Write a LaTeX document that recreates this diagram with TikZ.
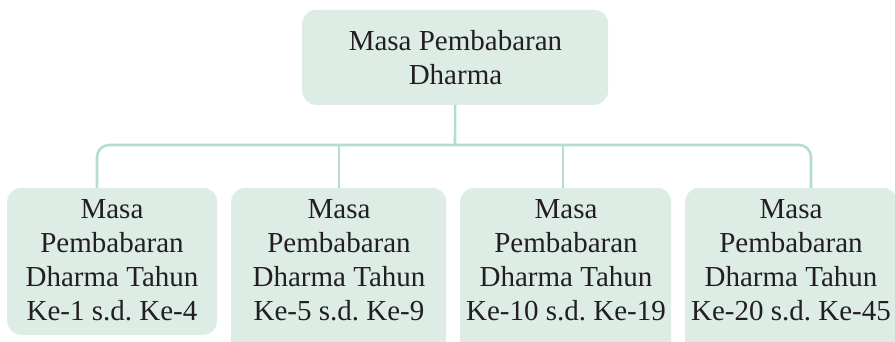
\documentclass[tikz,border=0pt]{standalone}
\usepackage{fontspec}
\setmainfont{Liberation Serif}
\frenchspacing
\definecolor{boxfill}{RGB}{221,237,229}
\definecolor{linkcol}{RGB}{181,221,204}
\definecolor{txt}{RGB}{35,31,32}
\begin{document}
\begin{tikzpicture}[x=1pt,y=1pt,
  boxstyle/.style={fill=boxfill,draw=none,rounded corners=14pt,inner sep=0pt,anchor=south west},
  label/.style={inner sep=0pt,align=center,text=txt,font=\fontsize{29}{34}\selectfont\frenchspacing,anchor=north},
  link/.style={draw=linkcol,line width=2.6pt}]
\useasboundingbox (0,0) rectangle (895,342);
% boxes
\node[boxstyle,minimum width=306pt,minimum height=95pt] (top) at (302,237) {};
\node[boxstyle,minimum width=210pt,minimum height=147pt] (b1) at (7,7) {};
\node[boxstyle,minimum width=215pt,minimum height=170pt] (b2) at (231,-16) {};
\node[boxstyle,minimum width=211pt,minimum height=170pt] (b3) at (460,-16) {};
\node[boxstyle,minimum width=212pt,minimum height=170pt] (b4) at (685,-16) {};
% texts
\node[label] (ttop) at (455.5,312) {Masa Pembabaran\\Dharma};
\node[label] (t1) at (112,142.2) {Masa\\Pembabaran\\Dharma Tahun\\Ke-1 s.d. Ke-4};
\node[label] (t2) at (339,142.2) {Masa\\Pembabaran\\Dharma Tahun\\Ke-5 s.d. Ke-9};
\node[label] (t3) at (566,142.2) {Masa\\Pembabaran\\Dharma Tahun\\Ke-10 s.d. Ke-19};
\node[label] (t4) at (791,142.2) {Masa\\Pembabaran\\Dharma Tahun\\Ke-20 s.d. Ke-45};
% connectors
\coordinate (bus) at (455,197);
\coordinate (c1) at (97,154);
\coordinate (c2) at (339,154);
\coordinate (c3) at (563,154);
\coordinate (c4) at (811,154);
\draw[link] (top.south) -- (bus);
\draw[link,rounded corners=12pt] (bus) -| (c1);
\draw[link,rounded corners=12pt] (bus) -| (c4);
\draw[link] (c2 |- bus) -- (c2);
\draw[link] (c3 |- bus) -- (c3);
\end{tikzpicture}
\end{document}
